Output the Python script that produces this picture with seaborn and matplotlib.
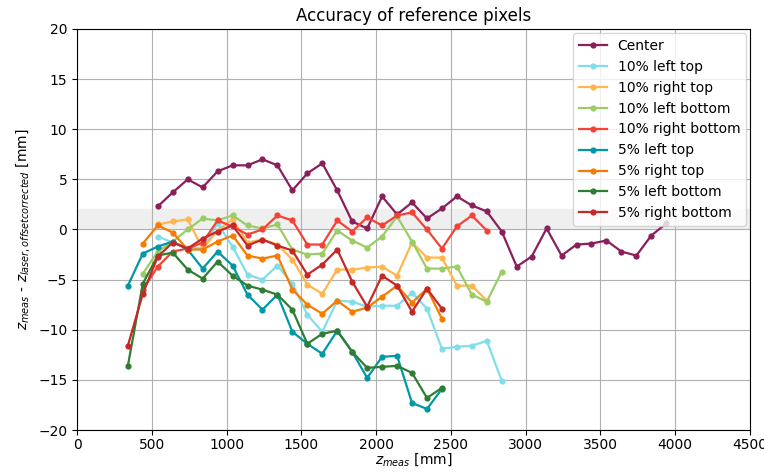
import numpy as np
import pandas as pd
import matplotlib
matplotlib.use("Agg")
import matplotlib.pyplot as plt
import seaborn as sns

# ---- data ----
series_names = ["Center", "10% left top", "10% right top", "10% left bottom",
                "10% right bottom", "5% left top", "5% right top",
                "5% left bottom", "5% right bottom"]
series_colors = ["#8a1f5c", "#80deea", "#ffb74d", "#9ccc65", "#f44336",
                 "#0097a7", "#f57c00", "#2e7d32", "#c62828"]

x_center = [540, 640, 740, 840, 940, 1040, 1140, 1240, 1340, 1440, 1540, 1640,
            1740, 1840, 1940, 2040, 2140, 2240, 2340, 2440, 2540, 2640, 2740,
            2840, 2940, 3040, 3140, 3240, 3340, 3440, 3540, 3640, 3740, 3840, 3940]
y_center = [2.3, 3.7, 5.0, 4.2, 5.8, 6.4, 6.4, 7.0, 6.4, 3.9, 5.6, 6.6, 3.9,
            0.8, 0.1, 3.3, 1.5, 2.7, 1.1, 2.1, 3.3, 2.4, 1.8, -0.2, -3.7, -2.7,
            0.1, -2.6, -1.5, -1.4, -1.1, -2.2, -2.6, -0.6, 0.6]

x_10_lt = [540, 640, 740, 840, 940, 1040, 1140, 1240, 1340, 1440, 1540, 1640,
           1740, 1840, 1940, 2040, 2140, 2240, 2340, 2440, 2540, 2640, 2740, 2840]
y_10_lt = [-0.7, -1.3, -1.8, -1.9, 0.6, -1.7, -4.5, -5.0, -3.6, -5.4, -8.5,
           -10.2, -7.1, -7.2, -7.7, -7.6, -7.6, -6.3, -7.9, -11.9, -11.7, -11.6,
           -11.1, -15.1]

x_10_rt = [540, 640, 740, 840, 940, 1040, 1140, 1240, 1340, 1440, 1540, 1640,
           1740, 1840, 1940, 2040, 2140, 2240, 2340, 2440, 2540, 2640, 2740]
y_10_rt = [0.5, 0.8, 1.0, -1.9, -0.1, 1.0, -1.3, -1.0, -1.5, -3.0, -5.5, -6.4,
           -4.0, -4.0, -3.8, -3.7, -4.6, -1.3, -2.8, -2.8, -5.6, -5.6, -7.1]

x_10_lb = [440, 540, 640, 740, 840, 940, 1040, 1140, 1240, 1340, 1440, 1540,
           1640, 1740, 1840, 1940, 2040, 2140, 2240, 2340, 2440, 2540, 2640,
           2740, 2840]
y_10_lb = [-4.4, -2.2, -1.2, 0.0, 1.1, 0.9, 1.4, 0.4, 0.1, 0.5, -2.0, -2.5,
           -2.4, -0.1, -1.1, -1.8, -0.7, 1.3, -1.2, -3.9, -3.9, -3.7, -6.5,
           -7.2, -4.2]

x_10_rb = [440, 540, 640, 740, 840, 940, 1040, 1140, 1240, 1340, 1440, 1540,
           1640, 1740, 1840, 1940, 2040, 2140, 2240, 2340, 2440, 2540, 2640, 2740]
y_10_rb = [-6.0, -3.7, -2.2, -1.9, -1.3, 0.9, 0.3, -0.5, 0.0, 1.4, 0.9, -1.5,
           -1.5, 0.9, -0.2, 1.2, 0.4, 1.4, 1.7, 0.0, -1.9, 0.3, 1.4, -0.1]

x_5 = [340, 440, 540, 640, 740, 840, 940, 1040, 1140, 1240, 1340, 1440, 1540,
       1640, 1740, 1840, 1940, 2040, 2140, 2240, 2340, 2440]
y_5_lt = [-5.6, -2.4, -1.7, -1.2, -2.0, -3.9, -2.2, -3.6, -6.5, -8.0, -6.5,
          -10.2, -11.4, -12.4, -10.1, -12.2, -14.8, -12.7, -12.6, -17.3, -17.9,
          -15.9]
x_5_rt = [440, 540, 640, 740, 840, 940, 1040, 1140, 1240, 1340, 1440, 1540,
          1640, 1740, 1840, 1940, 2040, 2140, 2240, 2340, 2440]
y_5_rt = [-1.4, 0.4, -0.3, -2.0, -2.0, -1.2, -0.6, -2.6, -2.9, -2.6, -6.0,
          -7.5, -8.4, -7.1, -8.2, -7.8, -6.7, -5.6, -7.3, -5.9, -8.9]
y_5_lb = [-13.6, -5.4, -2.6, -2.3, -4.0, -4.9, -3.2, -4.6, -5.6, -6.0, -6.5,
          -8.0, -11.4, -10.4, -10.1, -12.2, -13.8, -13.7, -13.6, -14.3, -16.8,
          -15.8]
y_5_rb = [-11.6, -6.4, -2.7, -1.3, -1.9, -0.9, -0.2, 0.4, -1.6, -1.0, -1.6,
          -2.1, -4.5, -3.5, -2.0, -5.2, -7.7, -4.6, -5.6, -8.2, -5.9, -7.9]

x_ticks = [0, 500, 1000, 1500, 2000, 2500, 3000, 3500, 4000, 4500]
y_ticks = [-20, -15, -10, -5, 0, 5, 10, 15, 20]
band_lo, band_hi = 0, 2

series_x = [x_center, x_10_lt, x_10_rt, x_10_lb, x_10_rb, x_5, x_5_rt, x_5, x_5]
series_y = [y_center, y_10_lt, y_10_rt, y_10_lb, y_10_rb, y_5_lt, y_5_rt, y_5_lb, y_5_rb]

frames = []
for n, xs, ys in zip(series_names, series_x, series_y):
    frames.append(pd.DataFrame({"x": xs, "y": ys, "series": n}))
df = pd.concat(frames, ignore_index=True)

# ---- plot ----
fig = plt.figure(figsize=(7.64, 4.73), dpi=100)
ax = fig.add_axes([0.1008, 0.0909, 0.8809, 0.8478])
ax.axhspan(band_lo, band_hi, color="#efefef", zorder=0)
ax.grid(True, color="#b0b0b0", linewidth=0.8, zorder=1)
ax.set_axisbelow(True)

for n, c in zip(series_names, series_colors):
    sub = df[df["series"] == n]
    sns.lineplot(data=sub, x="x", y="y", ax=ax, color=c, label=n,
                 marker="o", markersize=4.5, markeredgewidth=0,
                 linewidth=1.6, sort=False, zorder=3)

ax.set_xlim(0, 4500)
ax.set_ylim(-20, 20)
ax.set_xticks(x_ticks)
ax.set_yticks(y_ticks)
ax.tick_params(axis="x", pad=2)
ax.set_title("Accuracy of reference pixels", fontsize=12)
ax.set_xlabel(r"$z_{meas}$ [mm]", fontsize=10, labelpad=0)
ax.set_ylabel(r"$z_{meas}$ - $z_{laser, offsetcorrected}$ [mm]", fontsize=10)
ax.legend(loc="upper right", fontsize=10, borderaxespad=0.3)

fig.savefig("out.png", dpi=100)
